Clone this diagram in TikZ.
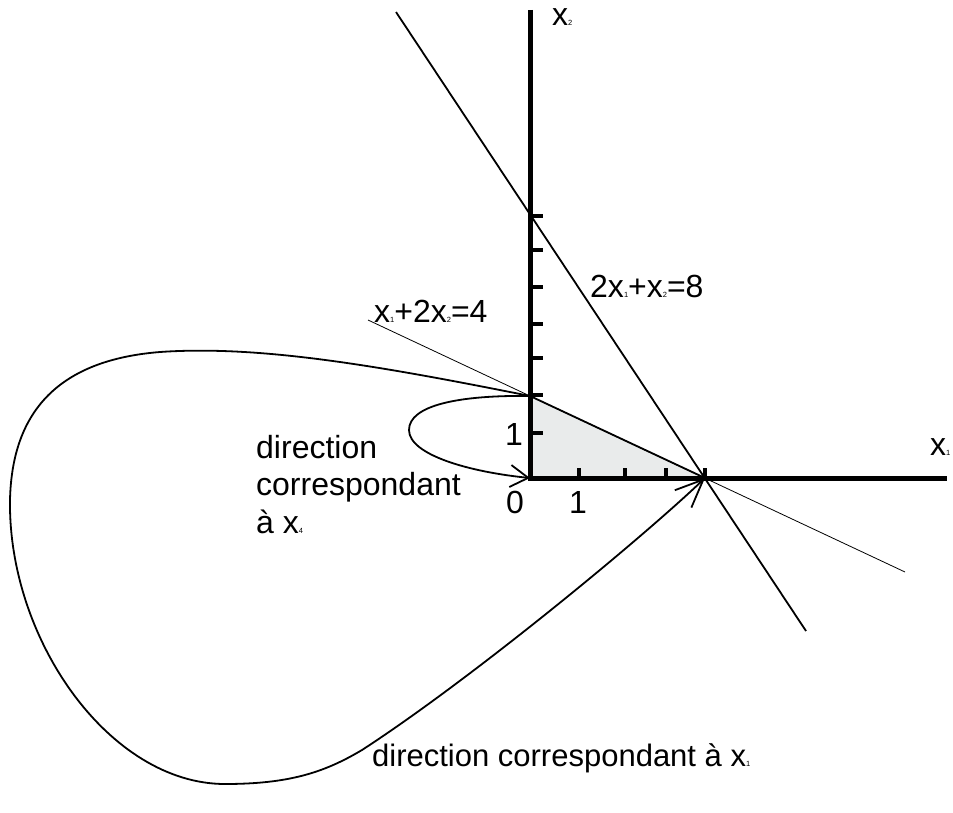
\documentclass[tikz,border=0pt]{standalone}
\usepackage{fontspec}
\setmainfont{Liberation Sans}
\usetikzlibrary{arrows.meta}
\newcommand\sbx[1]{{\fontsize{7.5}{8}\selectfont #1}}
\begin{document}
\begin{tikzpicture}[x=1pt,y=-1pt,
  lbl/.style={inner sep=0pt, font=\fontsize{32}{37.5}\selectfont},
  axisline/.style={line width=5pt},
  tickmark/.style={line width=4pt},
  curve/.style={line width=1.8pt},
  thinline/.style={line width=0.8pt},
  medline/.style={line width=1.8pt},
]
\useasboundingbox (0,0) rectangle (953,813);
\coordinate (O) at (530,478);
\coordinate (A) at (530,396);
\coordinate (B) at (705,478);
\coordinate (Ytop) at (530,10);
\coordinate (Xend) at (947,478);
\coordinate (L1a) at (396,12);
\coordinate (L1b) at (806,631);
\coordinate (L2a) at (368,320);
\coordinate (L2b) at (905,572);

% feasible region
\fill[fill={rgb,255:red,233;green,235;blue,235}] (O) -- (A) -- (B) -- cycle;
\draw[medline] (A) -- (B);

% constraint lines
\draw[medline] (L1a) -- (L1b);
\draw[thinline] (L2a) -- (L2b);

% axes
\draw[axisline, line join=miter] (Ytop) -- (O) -- (Xend);
\foreach \yy in {216,250,287,324,358,395,433}
  \draw[tickmark] (530,\yy) -- (543,\yy);
\foreach \xx in {579,625,666,705}
  \draw[tickmark] (\xx,478) -- (\xx,468);

% small loop
\draw[curve, -{Straight Barb[length=18pt,width=22pt]}]
  (A) .. controls (460,395) and (409,405) .. (409,430)
      .. controls (409,455) and (470,472) .. (O);

% big loop
\draw[curve, -{Straight Barb[length=28pt,width=24pt]}]
  (A) .. controls (380,366) and (260,345) .. (160,352)
      .. controls (60,360) and (12,410) .. (10,500)
      .. controls (8,640) and (110,784) .. (225,784)
      .. controls (290,784) and (325,772) .. (362,750)
      .. controls (470,680) and (640,540) .. (B);

% labels
\node[lbl, anchor=base west] (lx2) at (552,26) {x\sbx{2}};
\node[lbl, anchor=base west] (lx1) at (930,455) {x\sbx{1}};
\node[lbl, anchor=base west] (lc1) at (590,297) {2x\sbx{1}+x\sbx{2}=8};
\node[lbl, anchor=base west] (lc2) at (374,322) {x\sbx{1}+2x\sbx{2}=4};
\node[lbl, anchor=base west] (ly1) at (505,445) {1};
\node[lbl, anchor=base west] (l0) at (506,513) {0};
\node[lbl, anchor=base west] (lx1t) at (569,513) {1};
\node[lbl, anchor=base west, align=left] (dx4) at (256,533) {direction\\correspondant\\à x\sbx{4}};
\node[lbl, anchor=base west, font=\fontsize{31}{37.5}\selectfont] (dx1) at (372,766) {direction correspondant à x\sbx{1}};
\end{tikzpicture}
\end{document}
